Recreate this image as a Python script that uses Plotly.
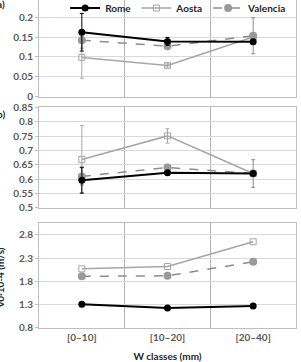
import plotly.graph_objects as go

categories = ["[0\u201310]", "[10\u201320]", "[20\u201340]"]
series = ["Rome", "Aosta", "Valencia"]

# panel a
a_rome = [0.162, 0.139, 0.138]
a_aosta = [0.099, 0.079, 0.150]
a_valencia = [0.142, 0.127, 0.153]
a_rome_err = [0.047, 0.010, 0.0]
a_aosta_err = [0.052, 0.004, 0.0]
a_valencia_err = [0.020, 0.006, 0.045]

# panel b
b_rome = [0.597, 0.623, 0.620]
b_aosta = [0.669, 0.751, 0.620]
b_valencia = [0.610, 0.641, 0.620]
b_rome_err = [0.045, 0.008, 0.0]
b_aosta_err = [0.118, 0.025, 0.0]
b_valencia_err = [0.030, 0.010, 0.048]

# panel c
c_rome = [1.31, 1.23, 1.27]
c_aosta = [2.07, 2.12, 2.65]
c_valencia = [1.91, 1.92, 2.22]

styles = {
    "Rome": dict(line=dict(color="#000000", width=2),
                 marker=dict(symbol="circle", size=7, color="#000000")),
    "Aosta": dict(line=dict(color="#a6a6a6", width=1.5),
                  marker=dict(symbol="square-open", size=6, color="#a6a6a6", line=dict(width=1))),
    "Valencia": dict(line=dict(color="#8c8c8c", width=1.5, dash="dash"),
                     marker=dict(symbol="circle", size=8, color="#999999")),
}
errcol = {"Rome": "#000000", "Aosta": "#a6a6a6", "Valencia": "#8c8c8c"}

xpos = list(range(len(categories)))
fig = go.Figure()

panels = [
    ("y", {"Rome": (a_rome, a_rome_err), "Aosta": (a_aosta, a_aosta_err), "Valencia": (a_valencia, a_valencia_err)}, True),
    ("y2", {"Rome": (b_rome, b_rome_err), "Aosta": (b_aosta, b_aosta_err), "Valencia": (b_valencia, b_valencia_err)}, False),
    ("y3", {"Rome": (c_rome, None), "Aosta": (c_aosta, None), "Valencia": (c_valencia, None)}, False),
]
xaxes = {"y": "x", "y2": "x2", "y3": "x3"}
order = ["Aosta", "Valencia", "Rome"]
for yax, data, showleg in panels:
    for name in order:
        vals, err = data[name]
        kw = dict(styles[name])
        tr = go.Scatter(x=xpos, y=vals, mode="lines+markers", name=name,
                        xaxis=xaxes[yax], yaxis=yax, showlegend=showleg,
                        legendrank={"Rome": 1, "Aosta": 2, "Valencia": 3}[name],
                        **kw)
        if err is not None:
            tr.error_y = dict(type="data", array=err, visible=True,
                              color=errcol[name], thickness=1, width=2)
        fig.add_trace(tr)

tickfont = dict(family="Lato", size=10, color="#595959", weight="bold")
grid = "#d9d9d9"
border = "#bfbfbf"

def xax(domain_anchor, show_labels):
    return dict(range=[-0.5, 2.5], tickvals=xpos, ticktext=categories,
                showticklabels=show_labels, showgrid=False, zeroline=False,
                showline=True, mirror=True, linecolor=border, linewidth=1,
                ticks="", tickfont=tickfont, anchor=domain_anchor, automargin=False,
                minor=dict(tickvals=[0.5, 1.5], showgrid=True, gridcolor="#b3b3b3", gridwidth=1))

def yax(domain, rng, dtick, tick0, fmt):
    return dict(domain=domain, range=rng, dtick=dtick, tick0=tick0, tickformat=fmt,
                showgrid=True, gridcolor=grid, gridwidth=1, zeroline=False,
                showline=True, mirror=True, linecolor=border, linewidth=1, automargin=False,
                ticks="outside", ticklen=3, tickcolor=border, tickfont=tickfont)

fig.update_layout(
    width=301, height=362,
    margin=dict(l=39, r=5, t=0, b=34, autoexpand=False),
    paper_bgcolor="white", plot_bgcolor="white",
    xaxis=xax("y", False),
    xaxis2=xax("y2", False),
    xaxis3=dict(xax("y3", True),
                title=dict(text="W classes (mm)", font=dict(family="Lato", size=10, color="#262626", weight="bold"), standoff=14)),
    yaxis=yax([0.7043, 1.0], [0, 0.2425], 0.05, 0, ""),
    yaxis2=yax([0.3659, 0.6723], [0.5, 0.85], 0.05, 0.5, ""),
    yaxis3=yax([0.0, 0.3201], [0.8, 3.053], 0.5, 0.8, ".1f"),
    showlegend=True,
    legend=dict(orientation="h", x=0.985, xanchor="right", y=0.9756, yanchor="middle",
                bgcolor="rgba(0,0,0,0)", font=dict(family="Lato", size=10, color="#262626", weight="bold"),
                itemwidth=30, tracegroupgap=0),
)
fig.update_xaxes(tickfont=tickfont)

fig.add_annotation(text="a)", xref="paper", yref="paper", x=-0.125, y=0.988, xanchor="right", yanchor="middle",
                   showarrow=False, font=dict(family="Lato", size=10, color="#262626", weight="bold"))
fig.add_annotation(text="b)", xref="paper", yref="paper", x=-0.125, y=0.652, xanchor="right", yanchor="middle",
                   showarrow=False, font=dict(family="Lato", size=10, color="#262626", weight="bold"))
fig.add_annotation(text="v0\u00b710-4 (m/s)", xref="paper", yref="paper", x=-0.152, y=0.155,
                   textangle=-90, showarrow=False, xanchor="center", yanchor="middle",
                   font=dict(family="Lato", size=10, color="#262626", weight="bold"))

fig.write_html("out.html")
